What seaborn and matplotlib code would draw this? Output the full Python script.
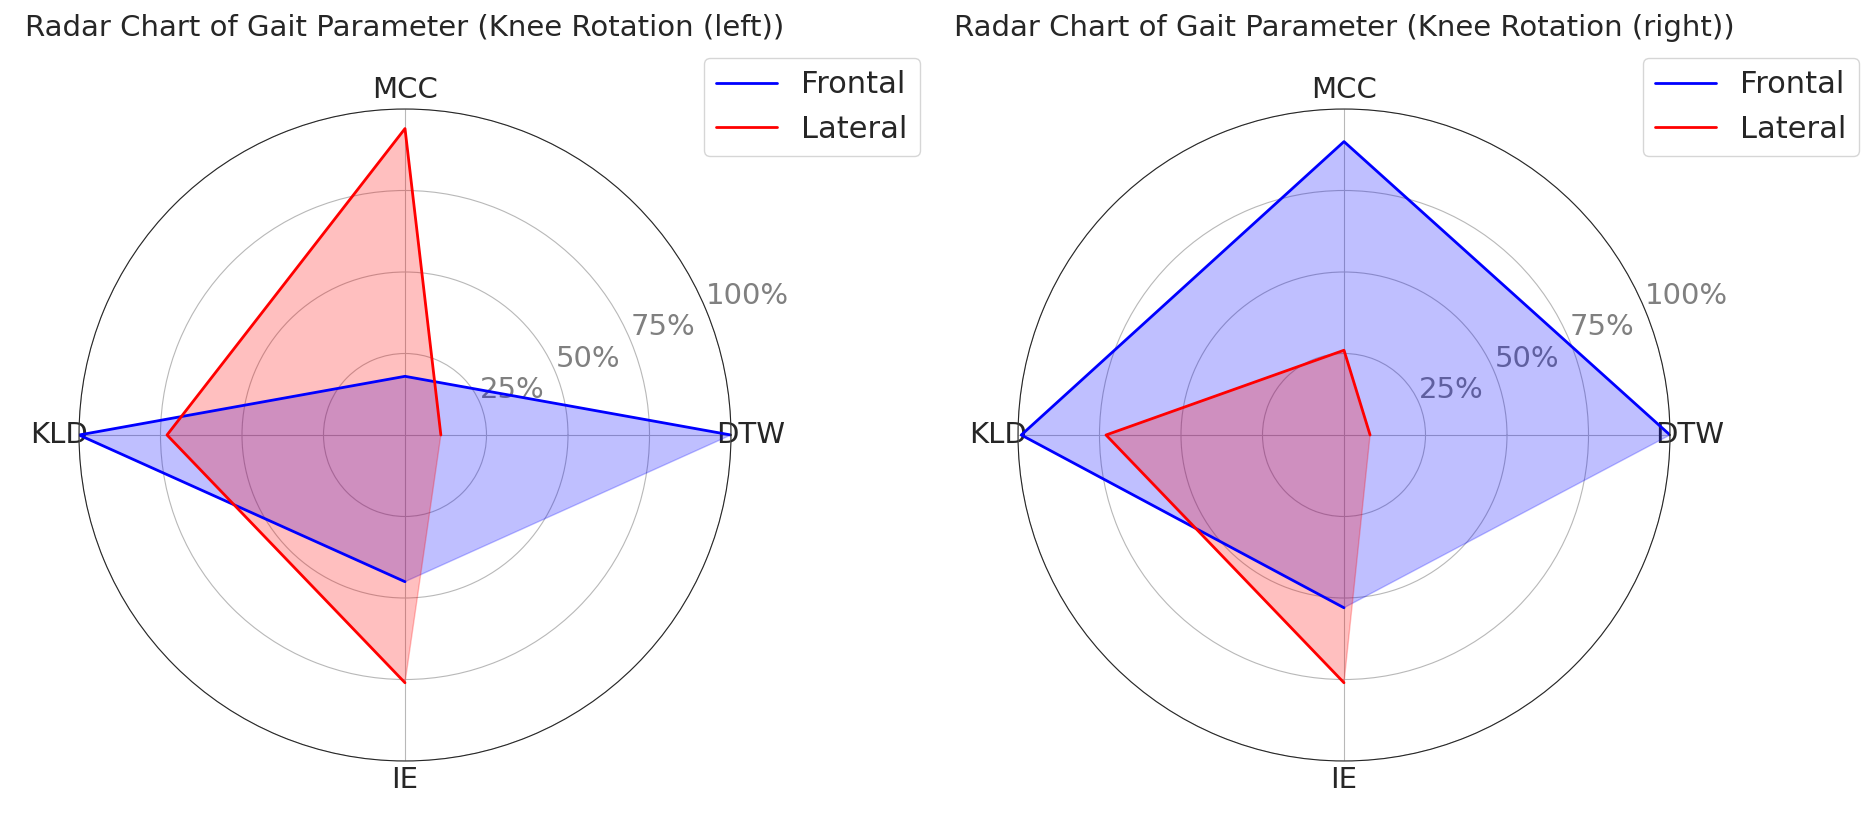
import numpy as np
import matplotlib
matplotlib.use("Agg")
import matplotlib.pyplot as plt
import seaborn as sns
import pandas as pd

# -------------------------------
# Data
# -------------------------------
metrics = ["DTW", "MCC", "KLD", "IE"]
series_names = ["Frontal", "Lateral"]
series_colors = ["blue", "red"]

left_frontal = [1.00, 0.18, 1.00, 0.45]
left_lateral = [0.11, 0.94, 0.73, 0.76]
right_frontal = [1.00, 0.90, 0.99, 0.53]
right_lateral = [0.08, 0.26, 0.73, 0.76]

r_ticks = [0.25, 0.50, 0.75, 1.00]
r_tick_labels = ["25%", "50%", "75%", "100%"]

panels = [
    ("Radar Chart of Gait Parameter (Knee Rotation (left))", [left_frontal, left_lateral]),
    ("Radar Chart of Gait Parameter (Knee Rotation (right))", [right_frontal, right_lateral]),
]

sns.set_style("white")
plt.rcParams["font.family"] = ["DejaVu Sans"]

fig = plt.figure(figsize=(18.62, 8.13), dpi=100)
W, H = 1862, 813
# axes boxes in pixels: left, top, width, height
axes_px = [(79, 109, 652, 652), (1018, 109, 652, 652)]

angles = np.linspace(0, 2 * np.pi, len(metrics), endpoint=False)
angles_closed = np.concatenate([angles, angles[:1]])

for (title, values), (x0, y0, w, h) in zip(panels, axes_px):
    ax = fig.add_axes([x0 / W, 1 - (y0 + h) / H, w / W, h / H], projection="polar")
    for name, color, vals in zip(series_names, series_colors, values):
        closed = list(vals) + [vals[0]]
        df = pd.DataFrame({"theta": angles_closed, "r": closed})
        sns.lineplot(data=df, x="theta", y="r", sort=False, color=color,
                     linewidth=2, label=name, ax=ax)
        ax.fill(angles_closed, closed, color=color, alpha=0.25)
    ax.set_xlabel("")
    ax.set_ylabel("")
    ax.set_ylim(0, 1)
    ax.set_xticks(angles)
    ax.set_xticklabels(metrics, fontsize=21)
    ax.set_yticks(r_ticks)
    ax.set_yticklabels(r_tick_labels, fontsize=21, color="gray")
    ax.set_rlabel_position(22.5)
    ax.grid(True, color="#b8b8b8", linewidth=0.8)
    ax.set_title(title, fontsize=21, y=1.112, pad=0)
    ax.legend(loc="upper right", bbox_to_anchor=(1.29, 1.078), borderaxespad=0,
              fontsize=22)

fig.savefig("out.png", dpi=100)
